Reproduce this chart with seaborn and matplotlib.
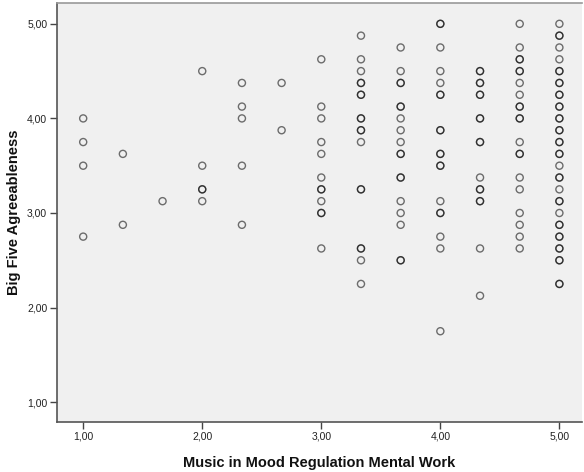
import matplotlib
matplotlib.use("Agg")
import matplotlib.pyplot as plt
import seaborn as sns
import pandas as pd

# Scale levels of "Music in Mood Regulation Mental Work" (mean of three items)
mood_levels = [1.0, 4/3, 5/3, 2.0, 7/3, 8/3, 3.0, 10/3, 11/3, 4.0, 13/3, 14/3, 5.0]

# Big Five Agreeableness scores observed at each level (repeated values = tied cases)
agree_100 = [4.0, 3.75, 3.5, 2.75]
agree_133 = [3.625, 2.875]
agree_167 = [3.125]
agree_200 = [4.5, 3.5, 3.25, 3.25, 3.125]
agree_233 = [4.375, 4.125, 4.0, 3.5, 2.875]
agree_267 = [4.375, 3.875]
agree_300 = [4.625, 4.125, 4.0, 3.75, 3.625, 3.375, 3.25, 3.25, 3.125,
             3.0, 3.0, 2.625]
agree_333 = [4.875, 4.625, 4.5, 4.375, 4.375, 4.25, 4.25, 4.0, 4.0, 3.875,
             3.875, 3.75, 3.25, 3.25, 2.625, 2.625, 2.5, 2.25]
agree_367 = [4.75, 4.5, 4.375, 4.375, 4.125, 4.125, 4.0, 3.875, 3.75, 3.625,
             3.625, 3.375, 3.375, 3.125, 3.0, 2.875, 2.5, 2.5]
agree_400 = [5.0, 5.0, 4.75, 4.5, 4.375, 4.25, 4.25, 3.875, 3.875, 3.625,
             3.625, 3.5, 3.5, 3.125, 3.0, 3.0, 2.75, 2.625, 1.75]
agree_433 = [4.5, 4.5, 4.375, 4.375, 4.25, 4.25, 4.0, 4.0, 3.75, 3.75,
             3.375, 3.25, 3.25, 3.125, 3.125, 2.625, 2.125]
agree_467 = [5.0, 4.75, 4.625, 4.625, 4.5, 4.5, 4.375, 4.25, 4.125, 4.125,
             4.0, 4.0, 3.75, 3.625, 3.625, 3.375, 3.25, 3.0, 2.875, 2.75,
             2.625]
agree_500 = [5.0, 4.875, 4.875, 4.75, 4.625, 4.5, 4.5, 4.375, 4.375, 4.25,
             4.25, 4.125, 4.125, 4.0, 4.0, 3.875, 3.875, 3.75, 3.75, 3.625,
             3.625, 3.5, 3.375, 3.375, 3.25, 3.125, 3.125, 3.0, 2.875, 2.875,
             2.75, 2.75, 2.625, 2.625, 2.5, 2.5, 2.25, 2.25]

agree_by_level = [agree_100, agree_133, agree_167, agree_200, agree_233,
                  agree_267, agree_300, agree_333, agree_367, agree_400,
                  agree_433, agree_467, agree_500]

tick_values = [1.0, 2.0, 3.0, 4.0, 5.0]
tick_labels = ["1,00", "2,00", "3,00", "4,00", "5,00"]

rows = []
for level, scores in zip(mood_levels, agree_by_level):
    for s in scores:
        rows.append({"mood": level, "agree": s})
df = pd.DataFrame(rows)

sns.set_style("white")
plt.rcParams["font.family"] = ["Liberation Sans", "DejaVu Sans"]

fig = plt.figure(figsize=(5.84, 4.72), dpi=100)
ax = fig.add_axes([0.0976, 0.1059, 0.899, 0.8877])
ax.set_facecolor("#f0f0f0")

sns.scatterplot(data=df, x="mood", y="agree", ax=ax, marker="o", s=26,
                facecolor="none", edgecolor=(0, 0, 0, 0.55), linewidth=1.0,
                legend=False)

ax.set_xlim(0.78, 5.19)
ax.set_ylim(0.79, 5.22)
ax.set_xticks(tick_values)
ax.set_xticklabels(tick_labels)
ax.set_yticks(tick_values)
ax.set_yticklabels(tick_labels)
ax.tick_params(axis="both", direction="out", length=5, width=1.0,
               color="#444444", labelsize=7.5, labelcolor="#222222", pad=2,
               bottom=True, left=True)

for side, spine in ax.spines.items():
    spine.set_visible(True)
    spine.set_linewidth(1.2)
    spine.set_color("#555555")
ax.spines["top"].set_color("#999999")
ax.spines["right"].set_visible(False)

ax.set_xlabel("Music in Mood Regulation Mental Work", fontsize=10.5,
              fontweight="bold", color="#111111", labelpad=10)
ax.set_ylabel("Big Five Agreeableness", fontsize=10.5, fontweight="bold",
              color="#111111", labelpad=4)

fig.savefig("out.png", dpi=100, facecolor="white")
